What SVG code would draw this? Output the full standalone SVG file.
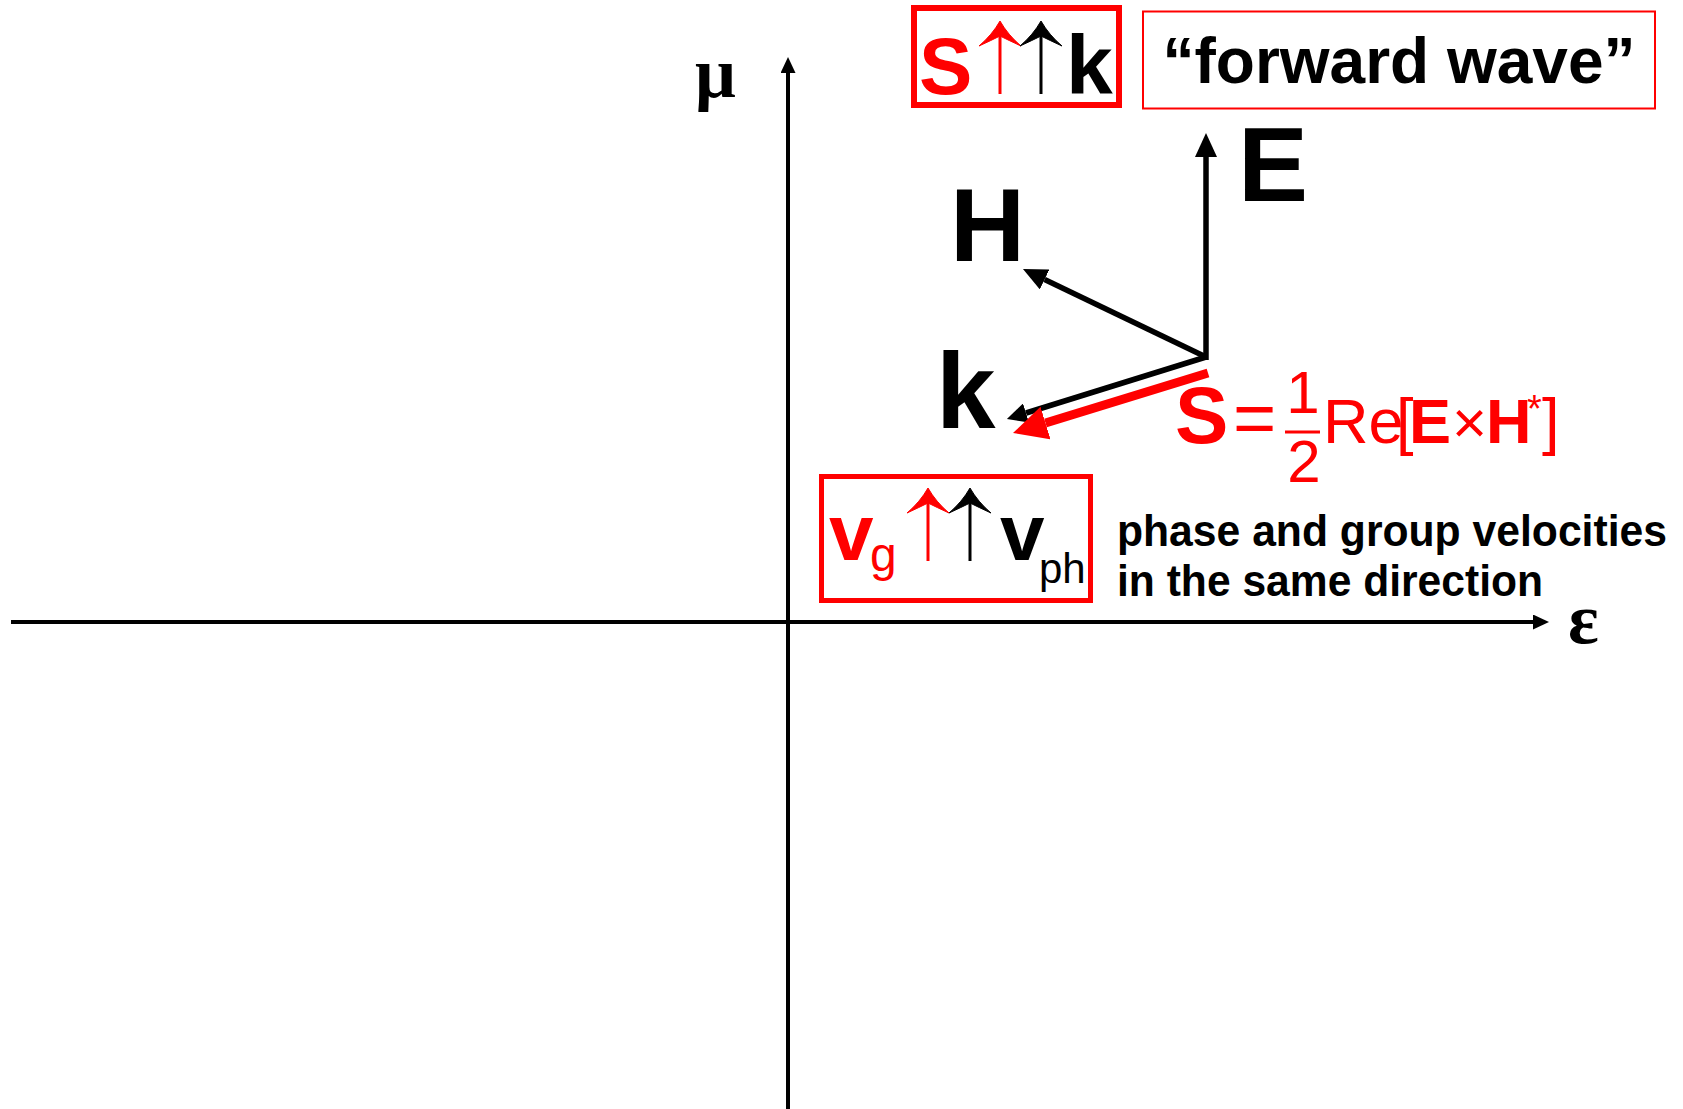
<svg xmlns="http://www.w3.org/2000/svg" xmlns:xlink="http://www.w3.org/1999/xlink" width="1683" height="1109" viewBox="0 0 1683 1109">
<style>
.sans{font-family:"Liberation Sans",Arial,sans-serif}
.serif{font-family:"Liberation Serif","Times New Roman",serif;font-weight:bold}
.b{font-weight:bold}
.red{fill:#ff0000}
.blk{fill:#000}
.axis{stroke:#000;stroke-width:4;fill:none}
.vec{stroke:#000;stroke-width:5.5;fill:none}
.svec{stroke:#ff0000;stroke-width:9;fill:none}
.box{fill:none;stroke:#ff0000}
</style>
<defs>
<marker id="axhead" markerUnits="userSpaceOnUse" markerWidth="16" markerHeight="15" refX="0" refY="7.5" orient="auto" viewBox="0 0 16 15">
<path d="M0,0 L16,7.5 L0,15 Z" fill="#000"/>
</marker>
<marker id="vhead" markerUnits="userSpaceOnUse" markerWidth="24" markerHeight="22" refX="0" refY="11" orient="auto" viewBox="0 0 24 22">
<path d="M0,0 L24,11 L0,22 Z" fill="#000"/>
</marker>
<marker id="khead" markerUnits="userSpaceOnUse" markerWidth="20" markerHeight="20" refX="0" refY="10" orient="auto" viewBox="0 0 20 20">
<path d="M0,0 L20,10 L0,20 Z" fill="#000"/>
</marker>
<marker id="shead" markerUnits="userSpaceOnUse" markerWidth="34" markerHeight="34" refX="0" refY="17" orient="auto" viewBox="0 0 34 34">
<path d="M0,0 L34,17 L0,34 Z" fill="#ff0000"/>
</marker>
<g id="uparrow">
<path d="M0,0 Q8,14 21,25 Q8,19 0,15 Q-8,19 -21,25 Q-8,14 0,0 Z"/>
<line x1="0" y1="4" x2="0" y2="73" stroke-width="3"/>
</g>
</defs>
<rect width="1683" height="1109" fill="#fff"/>

<g id="axes">
<line class="axis" x1="788" y1="1109" x2="788" y2="73" marker-end="url(#axhead)"/>
<line class="axis" x1="11" y1="622" x2="1533" y2="622" marker-end="url(#axhead)"/>
</g>

<g id="connectors">
<line class="vec" x1="1206" y1="360" x2="1206" y2="157" marker-end="url(#vhead)"/>
<line class="vec" x1="1206" y1="357" x2="1044.6" y2="279.5" marker-end="url(#vhead)"/>
<line class="vec" x1="1206" y1="357" x2="1026" y2="413" marker-end="url(#khead)"/>
<line class="svec" x1="1208" y1="373" x2="1045.5" y2="423" marker-end="url(#shead)"/>
</g>

<g id="label-mu"><text class="serif" x="695" y="97" font-size="72">μ</text></g>
<g id="label-eps"><text class="serif" x="1568" y="643" font-size="72">ε</text></g>

<g id="label-E"><text class="sans b blk" x="1238" y="201" font-size="105">E</text></g>
<g id="label-H"><text class="sans b blk" x="950" y="261" font-size="104">H</text></g>
<g id="label-k"><text class="sans b blk" x="936" y="428" font-size="107">k</text></g>

<g id="node-Sk">
<rect class="box" x="914" y="8" width="205" height="97" stroke-width="6"/>
<text class="sans b red" x="919" y="94" font-size="80">S</text>
<use xlink:href="#uparrow" x="1000" y="21" fill="#ff0000" stroke="#ff0000"/>
<use xlink:href="#uparrow" x="1041" y="21" fill="#000" stroke="#000"/>
<text class="sans b blk" x="1066" y="94" font-size="84">k</text>
</g>

<g id="node-forward">
<rect class="box" x="1143" y="11.5" width="512" height="97" stroke-width="2"/>
<text class="sans b blk" x="1399" y="83" font-size="64" text-anchor="middle">“forward wave”</text>
</g>

<g id="node-poynting">
<text class="sans b red" x="1175" y="443" font-size="80">S</text>
<text class="sans red" x="1233" y="443" font-size="74">=</text>
<text class="sans red" x="1303" y="413" font-size="60" text-anchor="middle">1</text>
<line x1="1285" y1="432" x2="1320" y2="432" stroke="#ff0000" stroke-width="3"/>
<text class="sans red" x="1304" y="482" font-size="60" text-anchor="middle">2</text>
<text class="sans red" x="1323" y="443" font-size="63">Re</text>
<text class="sans red" x="1396" y="443" font-size="63">[</text>
<text class="sans b red" x="1409" y="443" font-size="63">E</text>
<text class="sans red" x="1452" y="443" font-size="60">×</text>
<text class="sans b red" x="1486" y="443" font-size="63">H</text>
<text class="sans red" x="1527" y="422" font-size="38">*</text>
<text class="sans red" x="1542" y="443" font-size="63">]</text>
</g>

<g id="node-velocities">
<rect class="box" x="821.5" y="476.5" width="269" height="124" stroke-width="5"/>
<text class="sans b red" x="829" y="560" font-size="80">v</text>
<text class="sans red" x="870" y="571" font-size="48">g</text>
<use xlink:href="#uparrow" x="928" y="488" fill="#ff0000" stroke="#ff0000"/>
<use xlink:href="#uparrow" x="970" y="488" fill="#000" stroke="#000"/>
<text class="sans b blk" x="1000" y="560" font-size="80">v</text>
<text class="sans blk" x="1039" y="583" font-size="42">ph</text>
</g>

<g id="label-velocities">
<text class="sans b blk" x="1117" y="546" font-size="44" textLength="550" lengthAdjust="spacingAndGlyphs">phase and group velocities</text>
<text class="sans b blk" x="1117" y="596" font-size="44" textLength="426" lengthAdjust="spacingAndGlyphs">in the same direction</text>
</g>
</svg>
